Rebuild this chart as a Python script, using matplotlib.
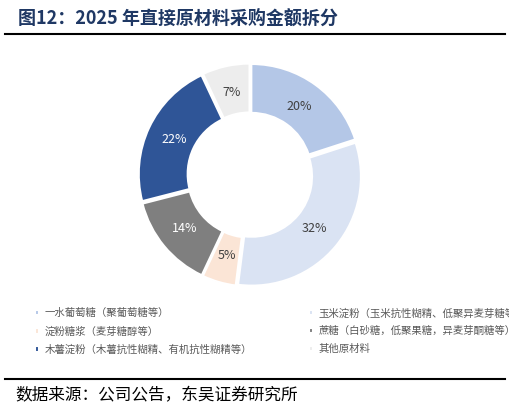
import matplotlib
matplotlib.use("Agg")
import matplotlib.pyplot as plt
import numpy as np

plt.rcParams['font.family'] = ['Noto Sans CJK SC', 'DejaVu Sans']

labels = ["一水葡萄糖（聚葡萄糖等）", "玉米淀粉（玉米抗性糊精、低聚异麦芽糖等）",
          "淀粉糖浆（麦芽糖醇等）", "蔗糖（白砂糖，低聚果糖，异麦芽酮糖等）",
          "木薯淀粉（木薯抗性糊精、有机抗性糊精等）", "其他原材料"]
values = [20, 32, 5, 14, 22, 7]
colors = ["#b4c7e7", "#dae3f3", "#fbe5d6", "#7f7f7f", "#2f5597", "#ededed"]

fig = plt.figure(figsize=(5.10, 4.12), dpi=100)
fig.text(0.035, 0.955, "图12：2025 年直接原材料采购金额拆分", fontsize=13, fontweight='bold',
         color='#1f3864', va='center')
fig.add_artist(plt.Line2D([0.01, 0.99], [0.918, 0.918], color='black', lw=1.5))
fig.add_artist(plt.Line2D([0.01, 0.99], [0.08, 0.08], color='black', lw=1.5))
fig.text(0.03, 0.04, "数据来源：公司公告，东吴证券研究所", fontsize=12, va='center')

ax = fig.add_axes([(250-116)/510, (412-175-116)/412, 232/510, 232/412])
wedges, texts = ax.pie(values, colors=colors, startangle=90, counterclock=False,
                       explode=[0.02]*6, radius=0.96,
                       wedgeprops=dict(width=0.43, edgecolor='white', linewidth=1.5))
ax.set_aspect('equal')
ax.set_xlim(-1.02, 1.02); ax.set_ylim(-1.02, 1.02)
for w, v in zip(wedges, values):
    mid = np.deg2rad((w.theta1 + w.theta2) / 2)
    r = 0.74
    c = 'white' if v in (14, 22) else '#404040'
    ax.text(r*np.cos(mid), r*np.sin(mid), f"{v}%", ha='center', va='center', fontsize=9, color=c)

order = [0, 2, 4, 1, 3, 5]
leg = fig.legend([wedges[i] for i in order], [labels[i] for i in order],
                 loc='upper left', bbox_to_anchor=(0.05, 0.275), ncol=2,
                 frameon=False, fontsize=7.5, handlelength=0.4, handleheight=0.4,
                 columnspacing=5.5, labelspacing=0.75, handletextpad=0.5,
                 labelcolor='#595959')
fig.savefig("out.png", dpi=100)
